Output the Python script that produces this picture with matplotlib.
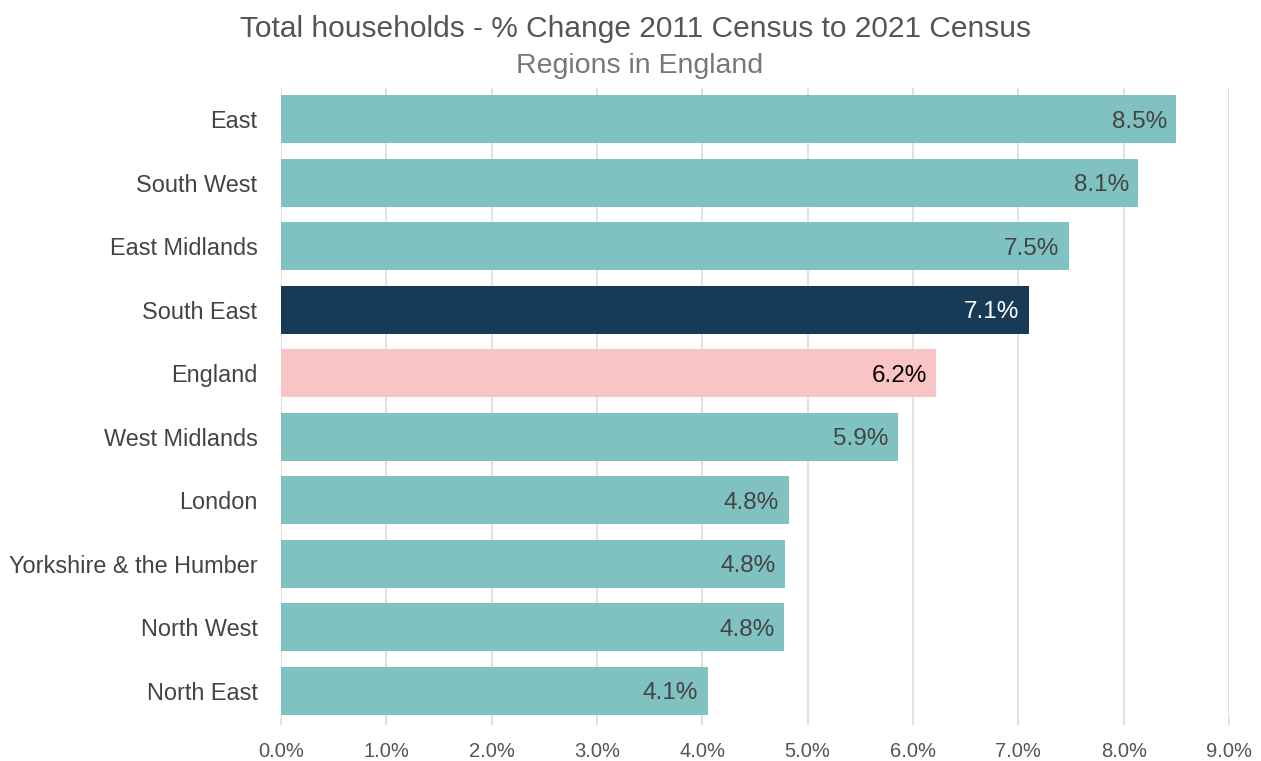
import matplotlib
matplotlib.use("Agg")
import matplotlib.pyplot as plt

plt.rcParams['font.family'] = ['Liberation Sans', 'DejaVu Sans']

regions = ["East", "South West", "East Midlands", "South East", "England",
           "West Midlands", "London", "Yorkshire & the Humber", "North West", "North East"]
values = [8.50, 8.14, 7.48, 7.10, 6.22, 5.86, 4.82, 4.785, 4.78, 4.05]
labels = ["8.5%", "8.1%", "7.5%", "7.1%", "6.2%", "5.9%", "4.8%", "4.8%", "4.8%", "4.1%"]
xticks = [0, 1, 2, 3, 4, 5, 6, 7, 8, 9]

teal = "#80C2C1"
navy = "#173A56"
pink = "#F9C4C3"
colors = [teal, teal, teal, navy, pink, teal, teal, teal, teal, teal]
label_colors = ["#444444"] * 10
label_colors[3] = "white"
label_colors[4] = "black"

W, H = 1261, 761
fig = plt.figure(figsize=(W / 100, H / 100), dpi=100)
left, right, top, bottom = 281, 1229, 88, 718
ax = fig.add_axes([left / W, 1 - bottom / H, (right - left) / W, (bottom - top) / H])

y = list(range(len(regions)))
ax.barh(y, values, height=0.755, color=colors, zorder=2)
for yi, v, lab, c in zip(y, values, labels, label_colors):
    ax.text(v - 0.09, yi + 0.04, lab, ha="right", va="center", fontsize=17.5, color=c, zorder=3)

ax.set_ylim(9.43, -0.49)
ax.set_xlim(0, 9)
ax.set_xticks(xticks)
ax.set_xticklabels([f"{t:.1f}%" for t in xticks], fontsize=14.5, color="#555555")
ax.set_yticks(y)
ax.set_yticklabels(regions, fontsize=16.9, color="#444444")
ax.grid(axis="x", color="#dddddd", linewidth=1.2, zorder=0)
ax.tick_params(axis="x", length=5, color="#dddddd", width=1.2, pad=12)
ax.tick_params(axis="y", length=0, pad=17)
for s in ax.spines.values():
    s.set_visible(False)

fig.text(636 / W, 1 - 29 / H, "Total households - % Change 2011 Census to 2021 Census",
         ha="center", va="center", fontsize=21.5, color="#555555")
fig.text(640 / W, 1 - 66 / H, "Regions in England",
         ha="center", va="center", fontsize=20.5, color="#777777")

fig.savefig("out.png", dpi=100)
